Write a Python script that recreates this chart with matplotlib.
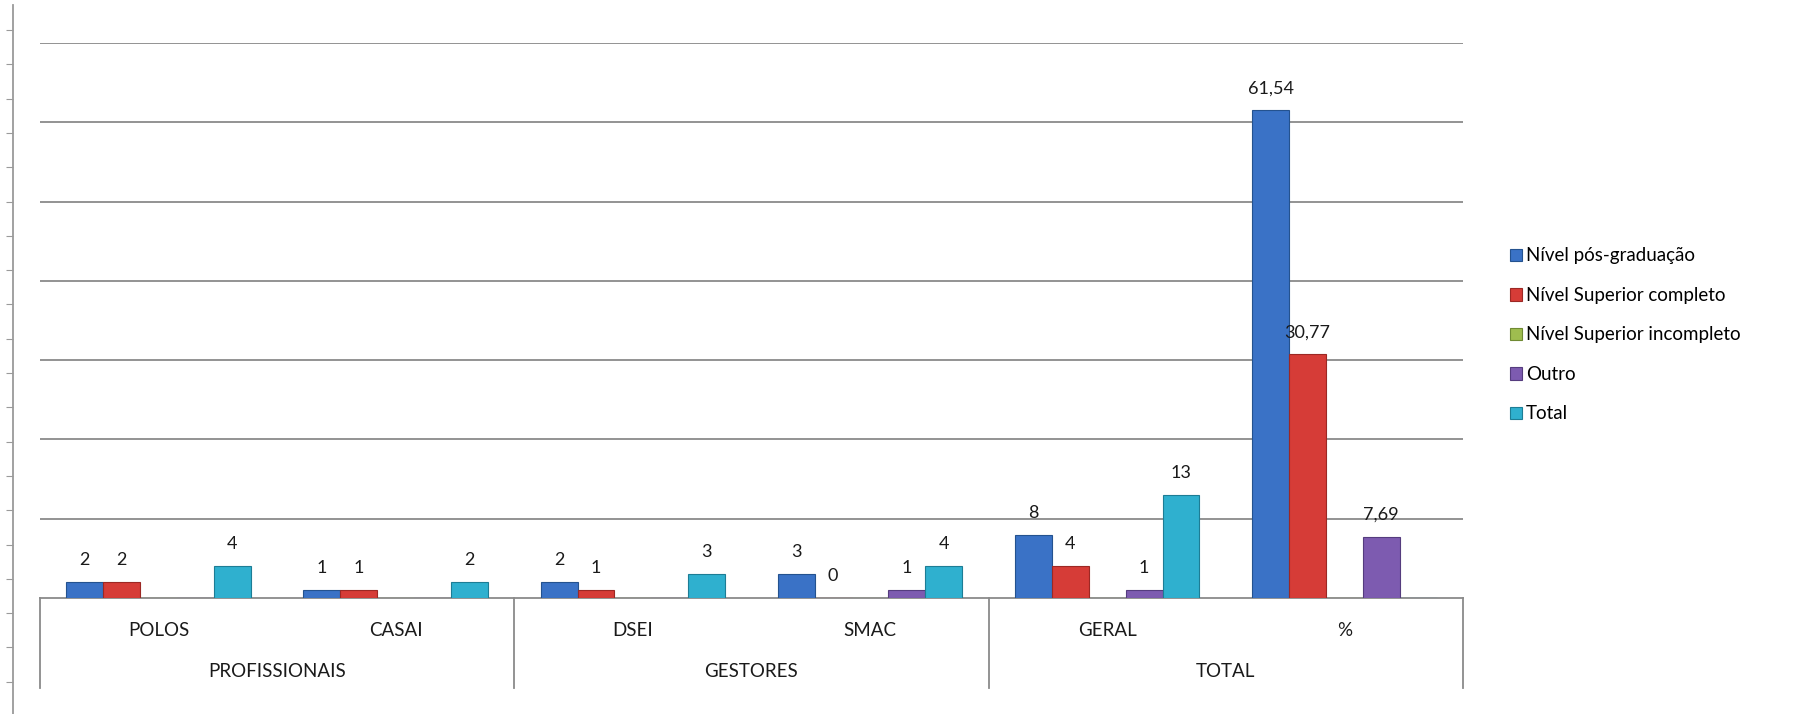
import matplotlib.pyplot as plt
import numpy as np

plt.rcParams['font.family'] = ['Lato', 'DejaVu Sans']

# ==== DATA ====
categories = ['POLOS', 'CASAI', 'DSEI', 'SMAC', 'GERAL', '%']
groups = ['PROFISSIONAIS', 'GESTORES', 'TOTAL']
series = ['Nível pós-graduação', 'Nível Superior completo',
          'Nível Superior incompleto', 'Outro', 'Total']

# None = no bar / no label in the original
pos_grad = [2, 1, 2, 3, 8, 61.54]
sup_comp = [2, 1, 1, 0, 4, 30.77]
sup_inc = [None, None, None, None, None, None]
outro = [None, None, None, 1, 1, 7.69]
total = [4, 2, 3, 4, 13, None]

values = [pos_grad, sup_comp, sup_inc, outro, total]
colors = ['#3a72c6', '#d63c37', '#9fbd4f', '#7d5bb0', '#2fb0cf']
edges = ['#24528f', '#9c2824', '#6f8a33', '#553c7e', '#1d7d95']


def fmt(v):
    if float(v).is_integer():
        return str(int(v))
    return ('%.2f' % v).replace('.', ',')


fig = plt.figure(figsize=(18.07, 7.14), dpi=100)
ax = fig.add_axes([0.0221, 0.1625, 0.8096 - 0.0221, 0.9398 - 0.1625])

x = np.arange(len(categories)) + 0.5
w = 0.1555

for k, (vals, c, ec, name) in enumerate(zip(values, colors, edges, series)):
    xs = x + (k - 2) * w
    hs = [v if v is not None else 0 for v in vals]
    ax.bar(xs, hs, width=w, color=c, edgecolor=ec, linewidth=0.8, label=name, zorder=3)
    for xi, v in zip(xs, vals):
        if v is None:
            continue
        ax.annotate(fmt(v), (xi, v), xytext=(0, 10), textcoords='offset points',
                    ha='center', va='bottom', fontsize=13, color='#1a1a1a', zorder=5)

ax.set_xlim(0, 6)
ax.set_ylim(0, 70)
ax.set_yticks(np.arange(10, 71, 10))
ax.yaxis.grid(True, color='#8a8a8a', linewidth=1.3, zorder=0)
ax.tick_params(left=False, labelleft=False, bottom=False, labelbottom=False)
for s in ['top', 'right', 'left']:
    ax.spines[s].set_visible(False)
ax.spines['bottom'].set_color('#8a8a8a')
ax.spines['bottom'].set_linewidth(1.3)

# two-level category axis
tr = ax.get_xaxis_transform()
for xi, name in zip(x, categories):
    ax.text(xi, -0.058, name, transform=tr, ha='center', va='center',
            fontsize=13.5, color='#1a1a1a')
for gi, name in enumerate(groups):
    ax.text(2 * gi + 1, -0.133, name, transform=tr, ha='center', va='center',
            fontsize=13.5, color='#1a1a1a')
for xs in [0, 2, 4, 6]:
    ax.plot([xs, xs], [0, -0.162], transform=tr, color='#8a8a8a',
            linewidth=1.3, clip_on=False)

# outer left line with small ticks
lax = fig.add_axes([13 / 1807, 0, 0.0001, (714 - 5) / 714])
lax.set_ylim(714, 5)
lax.set_yticks(np.arange(30, 700, 34.3))
lax.tick_params(axis='y', length=5, color='#9a9a9a', labelleft=False)
lax.set_xticks([])
for s in ['top', 'right', 'bottom']:
    lax.spines[s].set_visible(False)
lax.spines['left'].set_color('#9a9a9a')
lax.spines['left'].set_linewidth(1.3)
lax.patch.set_visible(False)

fig.legend(loc='center left', bbox_to_anchor=(0.8355, 0.531), frameon=False,
           fontsize=13.5, handlelength=0.65, handleheight=0.65, handletextpad=0.2,
           labelspacing=1.2, borderpad=0, borderaxespad=0)

fig.savefig('out.png', dpi=100)
